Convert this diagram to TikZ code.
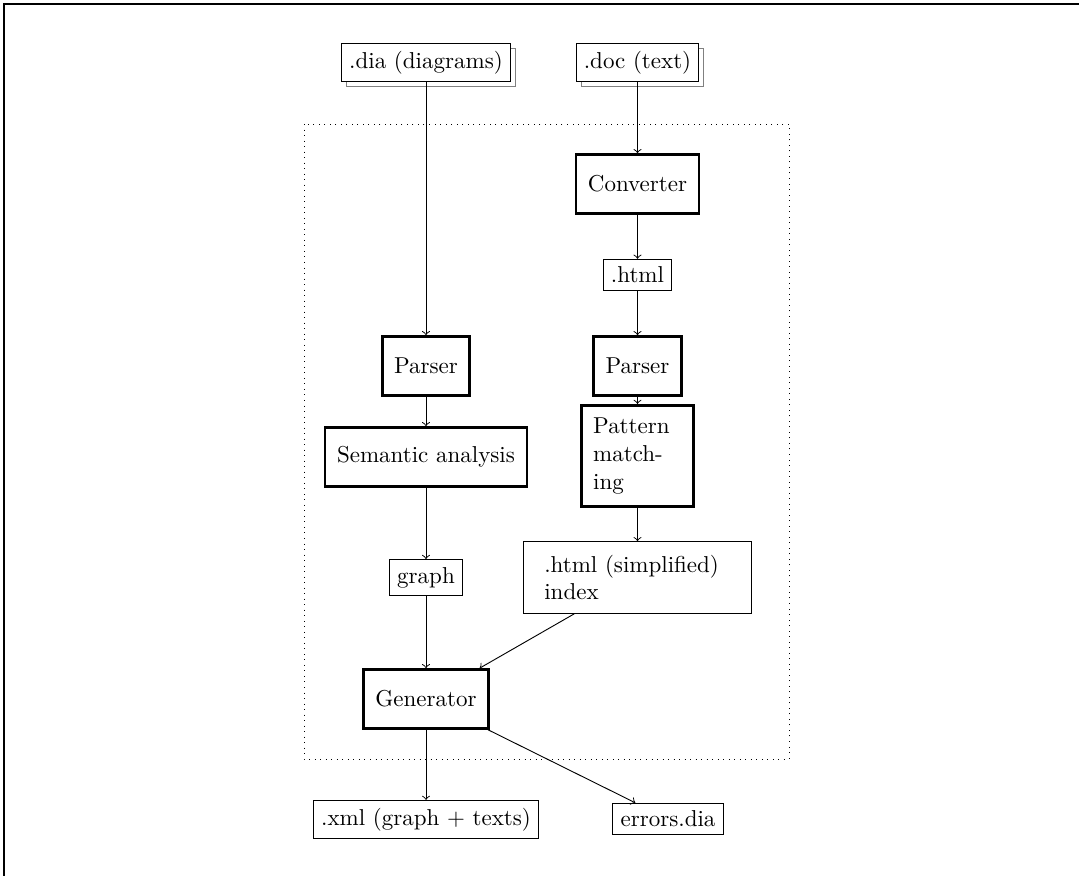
\documentclass[tikz,border=0pt]{standalone}
\usetikzlibrary{shadows}
\tikzset{
  proc/.style={draw, very thick, fill=white, inner xsep=5.2pt, inner ysep=5.6pt, minimum height=0.9cm},
  data/.style={draw, fill=white},
  src/.style={data, general shadow={draw=gray, fill=white, shadow xshift=2.2pt, shadow yshift=-2.2pt}},
  flow/.style={->},
}
\begin{document}
\begin{tikzpicture}[x=0.4348pt,y=-0.4348pt]
\useasboundingbox (0,0) rectangle (1079,876);
\draw[line width=0.8pt] (1110,4) -- (4,4) -- (4,900);
\draw[dotted] (304,124) rectangle (789,759);

\node[src] (dia) at (426,62.5) {.dia (diagrams)};
\node[src] (doc) at (637.5,62.5) {.doc (text)};
\node[proc] (conv) at (637.5,184) {Converter};
\node[data] (html) at (637.5,275) {.html};
\node[proc] (parR) at (637.5,366) {Parser};
\node[proc] (parL) at (426,366) {Parser};
\node[proc] (sem) at (426,457) {Semantic analysis};
\node[proc, text width=38.5pt, align=left] (pat) at (637.5,456) {Pattern\\match-\\ing};
\node[data, text width=81pt, align=left, inner xsep=9pt, inner ysep=5.8pt] (simp) at (637.5,577.5) {.html (simplified)\\index};
\node[data] (graph) at (426,577.5) {graph};
\node[proc] (gen) at (426,699) {Generator};
\node[data] (xml) at (426,819.5) {.xml (graph + texts)};
\node[data] (err) at (668,819) {errors.dia};

\draw[flow] (dia) -- (parL);
\draw[flow] (doc) -- (conv);
\draw[flow] (conv) -- (html);
\draw[flow] (html) -- (parR);
\draw[flow] (parR) -- (pat);
\draw[flow] (parL) -- (sem);
\draw[flow] (sem) -- (graph);
\draw[flow] (pat) -- (simp);
\draw[flow] (graph) -- (gen);
\draw[flow] (simp) -- (gen);
\draw[flow] (gen) -- (xml);
\draw[flow] (gen) -- (err);
\end{tikzpicture}
\end{document}
